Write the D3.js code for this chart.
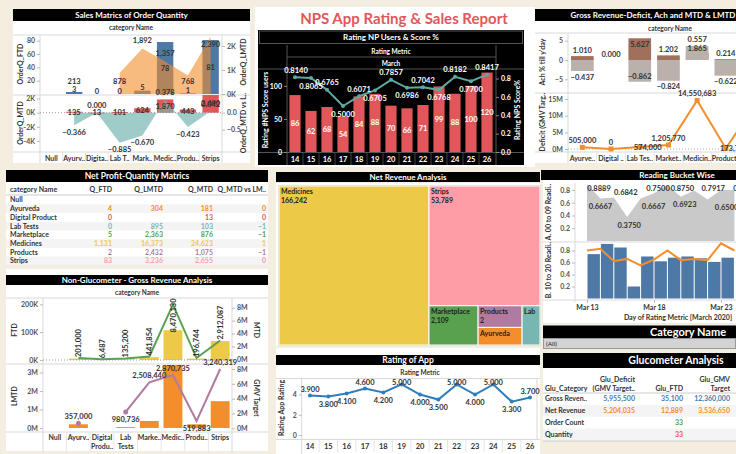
<!DOCTYPE html>
<html><head><meta charset="utf-8">
<script src="https://cdn.jsdelivr.net/npm/d3@7/dist/d3.min.js"></script>
<style>
html,body{margin:0;padding:0;background:#f4eee0;overflow:hidden}
svg{display:block;font-family:Lato,'Open Sans',sans-serif}
</style></head><body>
<svg id="dash" width="736" height="454"></svg>
<script>
// ================= DATA =================
// Sales Matrics of Order Quantity
const aCats  = ["Null","Ayurv..","Digita..","Lab T..","Mark..","Medic..","Produ..","Strips"];
const aFTD   = [null, 3, 0, 0, 5, 78, 1, 81];
const aLMTD  = [null, 213, null, 878, 1892, 1357, 768, 2390];
const aMTD   = [null, 135, 13, 101, 624, 1870, 443, 2490];
const aRatio = [null, -0.366, 0.000, -0.885, -0.670, 0.378, -0.423, 0.042];
const aLMTDLabelPos  = [null,"a",null,"b","a","a","b","b"];
const aFTDTicks = [20,40,60,80], aLMTDTicks = [0,1000,2000], aMTDTicks = [2000,0,-2000,-4000], aRatioTicks = [0,-0.5];

// Rating NP Users & Score %
const npsDays  = ["14","15","16","17","18","19","20","21","22","23","24","25","26"];
const npsUsers = [86,62,68,54,84,88,70,66,71,99,88,100,120];
const npsScore = [0.8140,0.8065,0.6765,0.5000,0.6071,0.6705,0.7857,0.6986,0.7042,0.6768,0.8182,0.7700,0.8417];
const npsUserTicks = [0,50,100], npsScoreTicks = [0,0.2,0.4,0.6,0.8];

// Gross Revenue-Deficit, Ach and MTD & LMTD
const cCats    = ["Ayurve..","Digital ..","Lab Tes..","Market..","Medicin..","Product..","Strips"];
const cAch     = [1.010, 0.000, 5.627, 1.202, 1.865, 0.214, null];
const cAchLMTD = [-0.437, null, -0.862, -0.824, 0.557, -0.622, null];
const cDeficit = [505000, 0, 574000, 1205770, 14550683, 173720, 13000000];
const cDefLabelPos = ["a","a","r","a","a","r","a"];
const cAchTicks = [5,0,-5], cDefTicks = [0,5e6,10e6,15e6];

// Net Profit-Quantity Matrics
const tCats  = ["Null","Ayurveda","Digital Product","Lab Tests","Marketplace","Medicines","Products","Strips"];
const tQFTD  = [null, 4, 0, 0, 5, 1131, 2, 83];
const tQLMTD = [null, 304, null, 895, 2363, 16373, 2432, 3236];
const tQMTD  = [null, 181, 13, 103, 876, 24623, 1075, 2655];
const tQVs   = [null, 0, 0, -1, -1, 1, -1, 0];
const catColors = {"Ayurveda":"#f28e2b","Digital Product":"#e15759","Lab Tests":"#76b7b2","Marketplace":"#59a14f","Medicines":"#edc948","Products":"#b07aa1","Strips":"#ff9da7","Lab":"#76b7b2"};

// Non-Glucometer - Gross Revenue Analysis
const eCats = ["Null","Ayurv..","Digital|Produ..","Lab|Tests","Marke..","Medic..","Produ..","Strips"];
const eFTD  = [null, 5000, 0, 2000, 10000, 107000, 5000, 68000];
const eMTD  = [null, 201000, 6487, 135200, 441854, 8470130, 196744, 2912087];
const eLMTD = [null, 200000, null, 50000, 380000, 3400000, 200000, 1450000];
const eGMV  = [null, 680000, null, 2200000, 6200000, 7200000, 1000000, 8000000];
const eGMVLabels = [null,"357,000",null,"980,736","2,508,440","2,870,735","519,883","3,240,319"];
const eGMVLabelPos = [null,"a",null,"b","a","a","b","a"];

// Net Revenue Analysis (treemap)
const tmCats    = ["Medicines","Strips","Marketplace","Products","Ayurveda","Lab"];
const tmRevenue = [166242, 53789, 2109, 2, null, null];
const tmSize    = [23900, 13320, 1930, 955, 775, 705];

// Reading Bucket Wise
const gDates   = ["2020-03-13","2020-03-14","2020-03-15","2020-03-16","2020-03-17","2020-03-18","2020-03-19","2020-03-20","2020-03-21","2020-03-22","2020-03-23","2020-03-24"];
const gA       = [0.8889,0.6667,0.6842,0.3750,0.6667,0.7500,0.8750,0.6923,0.7917,0.6500,0.8000,0.8000];
const gALabelAbove = [1,0,1,0,0,1,1,0,1,0,1,0];
const gALabelDx    = [12,0,12,2,13,4,15,4,19,19,24,0];
const gBBars   = [0.74,0.91,0.85,0.20,0.70,0.62,0.68,0.70,0.67,0.61,0.68];
const gBLine   = [0.80,0.83,0.62,0.66,0.55,0.65,0.80,0.64,0.66,0.64,0.92,0.80];
const gTicks   = ["2020-03-13","2020-03-18","2020-03-23"];

// Rating of App
const rDays   = ["14","15","16","17","18","19","20","21","22","23","24","25","26"];
const rRating = [3.9,3.8,4.1,4.6,4.2,5.0,4.0,3.5,5.0,4.0,5.0,3.3,3.7];
const rLabelAbove = [1,0,0,1,0,1,0,0,1,0,1,0,1];

// Glucometer Analysis
const gluCats    = ["Gross Reven..","Net Revenue","Order Count","Quantity"];
const gluDeficit = [5955500, 5204035, null, null];
const gluFTD     = [35100, 12889, 33, 33];
const gluGMV     = [12360000, 3536650, null, null];
const gluColors  = ["#4e79a7","#f28e2b","#59a14f","#e15759"];

// ================= HELPERS =================
const svg = d3.select("#dash");
const FONT = "Lato,'Open Sans',sans-serif";
const fmtN = d3.format(",");
svg.append("rect").attr("width",736).attr("height",454).attr("fill","#f4eee0");

function T(p,x,y,s,o={}){
  const t=p.append("text").attr("x",x).attr("y",y).text(s)
    .attr("font-size",o.size||7).attr("font-weight",o.weight||700)
    .attr("fill",o.fill||"#333").attr("text-anchor",o.anchor||"middle")
    .attr("dy","0.35em").attr("font-family",FONT);
  if(o.rot!=null) t.attr("transform",`rotate(${o.rot},${x},${y})`);
  return t;
}
function R(p,x,y,w,h,fill){return p.append("rect").attr("x",x).attr("y",y).attr("width",w).attr("height",h).attr("fill",fill);}
function L(p,x1,y1,x2,y2,stroke,dash){const l=p.append("line").attr("x1",x1).attr("y1",y1).attr("x2",x2).attr("y2",y2).attr("stroke",stroke||"#d9d9d9").attr("stroke-width",1);if(dash)l.attr("stroke-dasharray",dash);return l;}
function titleBar(x,y,w,h,s,size,cx){R(svg,x,y,w,h,"#000");T(svg,cx!=null?cx:x+w/2,y+h/2,s,{size:size||8,fill:"#fff"});}
function yAxis(scale,orient,x,ticks,fmt,color){
  const ax=(orient==="left"?d3.axisLeft:d3.axisRight)(scale).tickValues(ticks).tickFormat(fmt).tickSize(3).tickPadding(2);
  const g=svg.append("g").attr("transform",`translate(${x},0)`).call(ax);
  g.select(".domain").remove();
  g.selectAll("line").attr("stroke",color==="#fff"?"#888":"#bbb");
  g.selectAll("text").attr("font-size",7).attr("font-weight",700).attr("fill",color||"#555").attr("font-family",FONT);
  return g;
}
function xAxisBand(scale,y,color,size){
  const g=svg.append("g").attr("transform",`translate(0,${y})`).call(d3.axisBottom(scale).tickSize(0).tickPadding(0));
  g.select(".domain").remove();
  g.selectAll("text").attr("font-size",size||7).attr("font-weight",700).attr("fill",color||"#333").attr("font-family",FONT).attr("dy","0.35em");
  return g;
}

// ================= PANEL A : Sales Matrics =================
R(svg,13,9,237,154,"#fff");
titleBar(13,9,237,12,"Sales Matrics of Order Quantity",8);
T(svg,131,28,"category Name",{size:6.5});
L(svg,13,35,250,35); L(svg,13,95,250,95); L(svg,13,152,250,152);
L(svg,40,35,40,163); L(svg,222,35,222,163);
const xA=d3.scaleBand().domain(aCats).range([40,222]).paddingInner(0.28).paddingOuter(0.14);
const cxA=c=>xA(c)+xA.bandwidth()/2;
aCats.forEach((c,i)=>{ if(i>0) L(svg,xA.step()*i+40,152,xA.step()*i+40,163,"#e6e6e6"); });
const yA1=d3.scaleLinear().domain([0,80]).range([94,40.7]);
const yA2=d3.scaleLinear().domain([0,2000]).range([94,46]);
const yA3=d3.scaleLinear().domain([0,2000]).range([112.7,98.5]);
const yA4=d3.scaleLinear().domain([0,-0.5]).range([112.7,129.7]);
yAxis(yA1,"left",40,aFTDTicks,d3.format("d"));
yAxis(yA2,"right",222,aLMTDTicks,d=>d/1000+"K");
yAxis(yA3,"left",40,aMTDTicks,d=>d/1000+"K");
yAxis(yA4,"right",222,aRatioTicks,d3.format(".1f"));
T(svg,21,64,"OrderQ_FTD",{size:7,rot:-90});
T(svg,244,62,"OrderQ_LMTD",{size:7,rot:-90});
T(svg,21,123,"OrderQ_MTD",{size:7,rot:-90});
T(svg,244,123,"OrderQ_MTD vs L..",{size:7,rot:-90});
const dA=aCats.map((c,i)=>({c,ftd:aFTD[i],lmtd:aLMTD[i],mtd:aMTD[i],r:aRatio[i],i}));
svg.append("g").selectAll("rect").data(dA.filter(d=>d.ftd>0)).join("rect")
  .attr("x",d=>xA(d.c)).attr("width",xA.bandwidth()).attr("y",d=>yA1(d.ftd)).attr("height",d=>yA1(0)-yA1(d.ftd)).attr("fill","#4e79a7");
svg.append("path").datum(dA).attr("fill","#f28e2b").attr("fill-opacity",0.6)
  .attr("d",d3.area().defined(d=>d.lmtd!=null).x(d=>cxA(d.c)).y0(94).y1(d=>yA2(d.lmtd)));
dA.filter(d=>d.ftd!=null).forEach(d=>{
  const y=d.ftd>40?(yA1(d.ftd)+yA1(0))/2:yA1(d.ftd)-3;
  T(svg,cxA(d.c),y,fmtN(d.ftd),{size:7.5});
});
dA.filter(d=>d.lmtd!=null).forEach(d=>{
  const y=aLMTDLabelPos[d.i]==="a"?yA2(d.lmtd)-8:Math.min(yA2(d.lmtd)+8,81);
  T(svg,cxA(d.c),y,fmtN(d.lmtd),{size:7.5});
});
// bottom
L(svg,40,112.7,222,112.7,"#999","1,2");
svg.append("g").selectAll("rect").data(dA.filter(d=>d.mtd!=null)).join("rect")
  .attr("x",d=>xA(d.c)).attr("width",xA.bandwidth()).attr("y",d=>yA3(d.mtd)).attr("height",d=>Math.max(1,yA3(0)-yA3(d.mtd))).attr("fill","#e15759");
svg.append("path").datum(dA).attr("fill","#76b7b2").attr("fill-opacity",0.7)
  .attr("d",d3.area().defined(d=>d.r!=null).x(d=>cxA(d.c)).y0(yA4(0)).y1(d=>yA4(d.r)));
dA.filter(d=>d.mtd!=null).forEach(d=>T(svg,cxA(d.c),(yA3(d.mtd)+yA3(0))/2,fmtN(d.mtd),{size:7.5}));
dA.filter(d=>d.r!=null).forEach(d=>T(svg,cxA(d.c),yA4(d.r)+(d.r<0?7:-7),d3.format(".3f")(d.r),{size:7.5}));
xAxisBand(xA,158.5,"#333",7);

// ================= PANEL B : NPS =================
R(svg,255,7,280,160,"#fff");
T(svg,404,19,"NPS App Rating & Sales Report",{size:15,fill:"#e15759"});
R(svg,258,30,266,135,"#000");
R(svg,259.5,31,263,12.5,"#000").attr("stroke","#555");
T(svg,391,37.3,"Rating NP Users & Score %",{size:8,fill:"#fff"});
T(svg,391,51.5,"Rating Metric",{size:6.5,fill:"#fff"});
L(svg,287,57,496,57,"#555");
T(svg,391,63.3,"March",{size:6.5,fill:"#fff"});
L(svg,258,69,524,69,"#555");
L(svg,287,45,287,165,"#555"); L(svg,496,45,496,165,"#555");
L(svg,258,152.5,524,152.5,"#555");
const xB=d3.scaleBand().domain(npsDays).range([287,495]).paddingInner(0.3).paddingOuter(0.15);
const cxB=c=>xB(c)+xB.bandwidth()/2;
npsDays.forEach((c,i)=>{ if(i>0) L(svg,287+xB.step()*i,152.5,287+xB.step()*i,165,"#444"); });
const yB1=d3.scaleLinear().domain([0,100]).range([152,85.8]);
const yB2=d3.scaleLinear().domain([0,0.8]).range([152,78.5]);
yAxis(yB1,"left",287,npsUserTicks,d3.format("d"),"#fff");
yAxis(yB2,"right",496,npsScoreTicks,d3.format(".1f"),"#fff");
T(svg,266,110,"Rating #NPS Score users",{size:7,fill:"#fff",rot:-90});
T(svg,518,110,"Rating NPS Score%",{size:7,fill:"#fff",rot:-90});
const dB=npsDays.map((c,i)=>({c,u:npsUsers[i],s:npsScore[i],i}));
svg.append("g").selectAll("rect").data(dB).join("rect")
  .attr("x",d=>xB(d.c)).attr("width",xB.bandwidth()).attr("y",d=>yB1(d.u)).attr("height",d=>yB1(0)-yB1(d.u)).attr("fill","#e15759");
dB.forEach(d=>T(svg,cxB(d.c),(yB1(d.u)+yB1(0))/2,fmtN(d.u),{size:7.5,fill:"#fff"}));
svg.append("path").datum(dB).attr("fill","none").attr("stroke","#5fa8a0").attr("stroke-width",2)
  .attr("d",d3.line().x(d=>cxB(d.c)).y(d=>yB2(d.s)));
svg.append("g").selectAll("circle").data(dB).join("circle").attr("cx",d=>cxB(d.c)).attr("cy",d=>yB2(d.s)).attr("r",2).attr("fill","#5fa8a0");
dB.forEach(d=>T(svg,cxB(d.c)+(d.i===0?1:0),yB2(d.s)+(d.i%2===0?-7:8),d3.format(".4f")(d.s),{size:7.5,fill:"#fff"}));
xAxisBand(xB,159,"#fff",7.5);

// ================= PANEL C : Gross Revenue =================
R(svg,535,9,201,154,"#fff");
titleBar(535,9,201,12,"Gross Revenue-Deficit, Ach and MTD & LMTD",8,653);
T(svg,670,28.5,"category Name",{size:6.5});
L(svg,535,33,736,33); L(svg,535,93,736,93); L(svg,535,152,736,152); L(svg,568,33,568,163);
const xC=d3.scaleBand().domain(cCats).range([568,768.9]).paddingInner(0.21).paddingOuter(0.105);
const cxC=c=>xC(c)+xC.bandwidth()/2;
cCats.forEach((c,i)=>{ if(i>0) L(svg,568+xC.step()*i,152,568+xC.step()*i,163,"#e6e6e6"); });
const yC1=d3.scaleLinear().domain([0,5]).range([60,40.7]);
const yC2=d3.scaleLinear().domain([0,-1]).range([60,85.2]);
const yC3=d3.scaleLinear().domain([0,15e6]).range([149,99]);
yAxis(yC1,"left",568,cAchTicks,d3.format("d"));
yAxis(yC3,"left",568,cDefTicks,d=>d/1e6+"M");
T(svg,543,62,"Ach % till y'day",{size:7,rot:-90});
T(svg,543,122,"Deficit (GMV Targ..",{size:7,rot:-90});
const dC=cCats.map((c,i)=>({c,a:cAch[i],b:cAchLMTD[i],d:cDeficit[i],i}));
svg.append("g").selectAll("rect").data(dC.filter(d=>d.a!=null)).join("rect")
  .attr("x",d=>xC(d.c)).attr("width",xC.bandwidth()).attr("y",d=>yC1(d.a)).attr("height",d=>yC1(0)-yC1(d.a)).attr("fill","#a0705a");
svg.append("g").selectAll("rect").data(dC.filter(d=>d.b!=null)).join("rect")
  .attr("x",d=>xC(d.c)).attr("width",xC.bandwidth()).attr("y",d=>Math.min(yC2(d.b),yC2(0))).attr("height",d=>Math.abs(yC2(d.b)-yC2(0))).attr("fill","#bab0ac");
dC.filter(d=>d.b!=null).forEach(d=>{
  let y;
  if(d.b>=0) y=yC2(d.b)-6.5; else { y=yC2(d.b)+6; if(y>87) y=yC2(d.b)-5; }
  T(svg,cxC(d.c),y,d3.format(".3f")(d.b),{size:7.5});
});
dC.filter(d=>d.a!=null).forEach(d=>{
  let y=yC1(d.a)-6; if(y<37) y=yC1(d.a)+6;
  if(d.b!=null&&d.b>0) y=Math.max(y,yC2(d.b)+2);
  T(svg,cxC(d.c),y,d3.format(".3f")(d.a),{size:7.5});
});
L(svg,568,149,736,149,"#aaa","1,2");
svg.append("path").datum(dC).attr("fill","none").attr("stroke","#f28e2b").attr("stroke-width",2)
  .attr("d",d3.line().x(d=>cxC(d.c)).y(d=>yC3(d.d)));
svg.append("g").selectAll("rect").data(dC).join("rect").attr("x",d=>cxC(d.c)-2.5).attr("y",d=>yC3(d.d)-2.5).attr("width",5).attr("height",5).attr("fill","#f28e2b");
dC.forEach(d=>{
  const p=cDefLabelPos[d.i];
  T(svg,cxC(d.c)+(p==="r"?8:0),yC3(d.d)+(p==="r"?0:-7),fmtN(d.d),{size:7.5});
});
xAxisBand(xC,158.5,"#333",7);

// ================= PANEL D : Net Profit table =================
R(svg,6,170,262,95,"#fff");
titleBar(6,170,262,12,"Net Profit-Quantity Matrics",8.5);
const tCols=[{k:"Q_FTD",x:112,v:tQFTD},{k:"Q_LMTD",x:163,v:tQLMTD},{k:"Q_MTD",x:213,v:tQMTD},{k:"Q_MTD vs LM..",x:266,v:tQVs}];
T(svg,10,189.5,"category Name",{size:7,anchor:"start"});
tCols.forEach(c=>T(svg,c.x,189.5,c.k,{size:7,anchor:"end"}));
L(svg,6,195,268,195,"#ccc");
const rowH=8.7;
tCats.forEach((c,i)=>{
  const y=200+i*rowH;
  if(i%2===1) R(svg,6,y-rowH/2,262,rowH,"#f4f4f4");
  T(svg,10,y,c,{size:7,anchor:"start"});
  tCols.forEach(col=>{ const v=col.v[i]; if(v!=null) T(svg,col.x,y,fmtN(v),{size:7,anchor:"end",fill:catColors[c]}); });
});

// ================= PANEL E : Non-Glucometer =================
R(svg,6,269,262,182,"#fff");
titleBar(6,275,262,10,"Non-Glucometer - Gross Revenue Analysis",8);
T(svg,137,293,"category Name",{size:6.5});
L(svg,6,298,268,298); L(svg,6,364,268,364); L(svg,6,432,268,432);
L(svg,43,298,43,452); L(svg,232,298,232,452);
const xE=d3.scaleBand().domain(eCats).range([43,232]).paddingInner(0.2).paddingOuter(0.1);
const cxE=c=>xE(c)+xE.bandwidth()/2;
eCats.forEach((c,i)=>{ if(i>0) L(svg,43+xE.step()*i,432,43+xE.step()*i,452,"#e6e6e6"); });
const yE1=d3.scaleLinear().domain([0,200000]).range([360,304.3]);
const yE2=d3.scaleLinear().domain([0,8e6]).range([359.3,307.7]);
const yE3=d3.scaleLinear().domain([0,3e6]).range([428,372.5]);
const yE4=d3.scaleLinear().domain([0,8e6]).range([428.3,369]);
yAxis(yE1,"left",43,[0,100000,200000],d=>d/1000+"K");
yAxis(yE2,"right",232,[0,2e6,4e6,6e6,8e6],d=>d/1e6+"M");
yAxis(yE3,"left",43,[0,1e6,2e6,3e6],d=>d/1e6+"M");
yAxis(yE4,"right",232,[0,2e6,4e6,6e6,8e6],d=>d/1e6+"M");
T(svg,15,330,"FTD",{size:7,rot:-90});
T(svg,256,330,"MTD",{size:7,rot:90});
T(svg,15,396,"LMTD",{size:7,rot:-90});
T(svg,256,398,"GMV Target",{size:7,rot:90});
const dE=eCats.map((c,i)=>({c,f:eFTD[i],m:eMTD[i],l:eLMTD[i],g:eGMV[i],i}));
svg.append("g").selectAll("rect").data(dE.filter(d=>d.f>0)).join("rect")
  .attr("x",d=>xE(d.c)).attr("width",xE.bandwidth()).attr("y",d=>yE1(d.f)).attr("height",d=>yE1(0)-yE1(d.f)).attr("fill","#edc948");
L(svg,43,360,232,360,"#999","1,2");
svg.append("path").datum(dE).attr("fill","none").attr("stroke","#59a14f").attr("stroke-width",2)
  .attr("d",d3.line().defined(d=>d.m!=null).x(d=>cxE(d.c)).y(d=>yE2(d.m)));
dE.filter(d=>d.m!=null).forEach(d=>{
  const s=fmtN(d.m); const len=s.length*3.6;
  const y=Math.max(yE2(d.m)-1,300+len);
  T(svg,cxE(d.c),y,s,{size:7.5,anchor:"start",rot:-90});
});
svg.append("g").selectAll("rect").data(dE.filter(d=>d.l!=null)).join("rect")
  .attr("x",d=>xE(d.c)).attr("width",xE.bandwidth()).attr("y",d=>Math.max(364.5,yE3(d.l))).attr("height",d=>yE3(0)-Math.max(364.5,yE3(d.l))).attr("fill","#f28e2b");
svg.append("path").datum(dE).attr("fill","none").attr("stroke","#b07aa1").attr("stroke-width",2)
  .attr("d",d3.line().defined(d=>d.g!=null).x(d=>cxE(d.c)).y(d=>yE4(d.g)));
svg.append("g").selectAll("circle").data(dE.filter(d=>d.g!=null&&(d.i===0||dE[d.i-1].g==null))).join("circle")
  .attr("cx",d=>cxE(d.c)).attr("cy",d=>yE4(d.g)).attr("r",2.5).attr("fill","#b07aa1");
dE.filter(d=>d.g!=null).forEach(d=>{
  const p=eGMVLabelPos[d.i];
  T(svg,cxE(d.c),yE4(d.g)+(p==="a"?-7:7),eGMVLabels[d.i],{size:7.5});
});
const exg=svg.append("g");
eCats.forEach(c=>{ const parts=c.split("|"); parts.forEach((s,k)=>T(exg,cxE(c),438+k*9,s,{size:7})); });

// ================= PANEL F : Treemap =================
titleBar(276,172,264,10,"Net Revenue Analysis",8);
R(svg,276,183,264,163,"#fff");
R(svg,278.5,185.5,262,160,"none").attr("stroke","#ccc");
const tmData={name:"root",children:[
  {name:tmCats[0],value:tmSize[0],rev:tmRevenue[0]},
  {name:"r1",children:[
    {name:tmCats[1],value:tmSize[1],rev:tmRevenue[1]},
    {name:"r2",children:[
      {name:tmCats[2],value:tmSize[2],rev:tmRevenue[2]},
      {name:"r3",children:[
        {name:tmCats[3],value:tmSize[3],rev:tmRevenue[3]},
        {name:tmCats[4],value:tmSize[4],rev:tmRevenue[4]}]},
      {name:tmCats[5],value:tmSize[5],rev:tmRevenue[5]}]}]}]};
const root=d3.hierarchy(tmData).sum(d=>d.value||0);
d3.treemap().tile(d3.treemapSliceDice).size([261,159])(root);
const tmg=svg.append("g").attr("transform","translate(279,186)");
root.leaves().forEach(n=>{
  tmg.append("rect").attr("x",n.x0).attr("y",n.y0).attr("width",n.x1-n.x0).attr("height",n.y1-n.y0)
    .attr("fill",catColors[n.data.name]).attr("stroke","#fff").attr("stroke-width",1);
  T(tmg,n.x0+2,n.y0+6,n.data.name,{size:7,anchor:"start",fill:"#222"});
  if(n.data.rev!=null) T(tmg,n.x0+2,n.y0+15,fmtN(n.data.rev),{size:7,anchor:"start",fill:"#222"});
});

// ================= PANEL G : Reading Bucket =================
R(svg,543,180,193,143,"#fff");
titleBar(541,170,195,10,"Reading Bucket Wise",8,677);
L(svg,575,183,575,302); L(svg,543,242,736,242); L(svg,543,300,736,300);
const pd=d3.timeParse("%Y-%m-%d");
const xG=d3.scaleTime().domain([pd("2020-03-13"),pd("2020-03-23")]).range([587,721]);
const yG1=d3.scaleLinear().domain([0,0.8]).range([241,190]);
const yG2=d3.scaleLinear().domain([0,0.8]).range([298.5,250.5]);
yAxis(yG1,"left",575,[0.2,0.4,0.6,0.8],d3.format(".1f"));
yAxis(yG2,"left",575,[0.2,0.4,0.6,0.8],d3.format(".1f"));
T(svg,549,212,"A. 00 to 09 Readi..",{size:7,rot:-90});
T(svg,549,270,"B. 10 to 20 Readi..",{size:7,rot:-90});
const dGA=gDates.map((s,i)=>({t:pd(s),v:gA[i],i}));
svg.append("clipPath").attr("id","clipG").append("rect").attr("x",576).attr("y",180).attr("width",160).attr("height",125);
const gg=svg.append("g").attr("clip-path","url(#clipG)");
gg.append("path").datum(dGA).attr("fill","#c9c9c9").attr("d",d3.area().x(d=>xG(d.t)).y0(yG1(0)).y1(d=>yG1(d.v)));
dGA.slice(0,11).forEach(d=>{
  const y=gALabelAbove[d.i]?Math.max(yG1(d.v)-5,188.5):yG1(d.v)+8;
  T(gg,xG(d.t)+gALabelDx[d.i],y,d3.format(".4f")(d.v),{size:7.5});
});
const day=xG(pd("2020-03-14"))-xG(pd("2020-03-13"));
gg.selectAll("rect.bb").data(gBBars.map((v,i)=>({t:pd(gDates[i]),v}))).join("rect").attr("class","bb")
  .attr("x",d=>xG(d.t)+0.5).attr("width",day-1).attr("y",d=>yG2(d.v)).attr("height",d=>yG2(0)-yG2(d.v)).attr("fill","#4e79a7");
gg.append("path").datum(gBLine.map((v,i)=>({t:pd(gDates[i]),v}))).attr("fill","none").attr("stroke","#f28e2b").attr("stroke-width",2)
  .attr("d",d3.line().x(d=>xG(d.t)).y(d=>yG2(d.v)));
const gx=svg.append("g").attr("transform","translate(0,300)").call(d3.axisBottom(xG).tickValues(gTicks.map(pd)).tickFormat(d3.timeFormat("%b %d")).tickSize(3).tickPadding(2));
gx.select(".domain").remove(); gx.selectAll("line").attr("stroke","#bbb");
gx.selectAll("text").attr("font-size",7).attr("font-weight",700).attr("fill","#333").attr("font-family",FONT);
T(svg,678,318,"Day of Rating Metric [March 2020]",{size:7});

// Category Name filter
R(svg,543,325.5,193,14,"#000");
T(svg,688,332.5,"Category Name",{size:11,fill:"#fff"});
R(svg,543.5,338.5,192,10,"#d3d3d3").attr("stroke","#999");
T(svg,546,343.5,"(All)",{size:6.5,anchor:"start",weight:400,fill:"#222"});

// ================= Glucometer table =================
titleBar(543,353,193,15,"Glucometer Analysis",10.5,676);
R(svg,543,368,193,73,"#fff");
T(svg,545,388.3,"Glu_Category",{size:7,anchor:"start"});
T(svg,635,379.3,"Glu_Deficit",{size:7,anchor:"end"});
T(svg,635,388.3,"(GMV Target..",{size:7,anchor:"end"});
T(svg,683,388.3,"Glu_FTD",{size:7,anchor:"end"});
T(svg,730,379.3,"Glu_GMV",{size:7,anchor:"end"});
T(svg,730,388.3,"Target",{size:7,anchor:"end"});
L(svg,543,393,736,393,"#ccc");
gluCats.forEach((c,i)=>{
  const y=399+i*11.8;
  if(i%2===1) R(svg,543,y-5.9,193,11.8,"#f4f4f4");
  T(svg,545,y,c,{size:7,anchor:"start"});
  if(gluDeficit[i]!=null) T(svg,635,y,fmtN(gluDeficit[i]),{size:7,anchor:"end",fill:gluColors[i]});
  if(gluFTD[i]!=null) T(svg,683,y,fmtN(gluFTD[i]),{size:7,anchor:"end",fill:gluColors[i]});
  if(gluGMV[i]!=null) T(svg,730,y,fmtN(gluGMV[i]),{size:7,anchor:"end",fill:gluColors[i]});
});
L(svg,543,441,736,441,"#ccc");

// ================= Rating of App =================
R(svg,276,348,264,106,"#fff");
titleBar(276,355,264,10,"Rating of App",8.5);
T(svg,420,372.5,"Rating Metric",{size:6.5});
L(svg,276,378.5,540,378.5); L(svg,301.7,378.5,301.7,454); L(svg,276,439.5,540,439.5); L(svg,537,378.5,537,439.5);
const xR=d3.scaleBand().domain(rDays).range([300.8,539.2]);
const cxR=c=>xR(c)+xR.bandwidth()/2;
rDays.forEach((c,i)=>{ if(i>0) L(svg,300.8+xR.step()*i,439.5,300.8+xR.step()*i,452,"#e6e6e6"); });
const yR=d3.scaleLinear().domain([0,5]).range([435,384.4]);
yAxis(yR,"left",301.7,[0,2,4],d3.format("d"));
T(svg,282,408,"Rating App Rating",{size:7,rot:-90});
const dR=rDays.map((c,i)=>({c,v:rRating[i],i}));
svg.append("path").datum(dR).attr("fill","none").attr("stroke","#2f7ebc").attr("stroke-width",2)
  .attr("d",d3.line().x(d=>cxR(d.c)).y(d=>yR(d.v)));
svg.append("g").selectAll("circle").data(dR).join("circle").attr("cx",d=>cxR(d.c)).attr("cy",d=>yR(d.v)).attr("r",2).attr("fill","#2f7ebc");
dR.forEach(d=>{
  const y=rLabelAbove[d.i]?Math.max(yR(d.v)-6,382.5):yR(d.v)+8;
  T(svg,cxR(d.c),y,d3.format(".3f")(d.v),{size:7.5});
});
xAxisBand(xR,446,"#333",7.5);
</script></body></html>
